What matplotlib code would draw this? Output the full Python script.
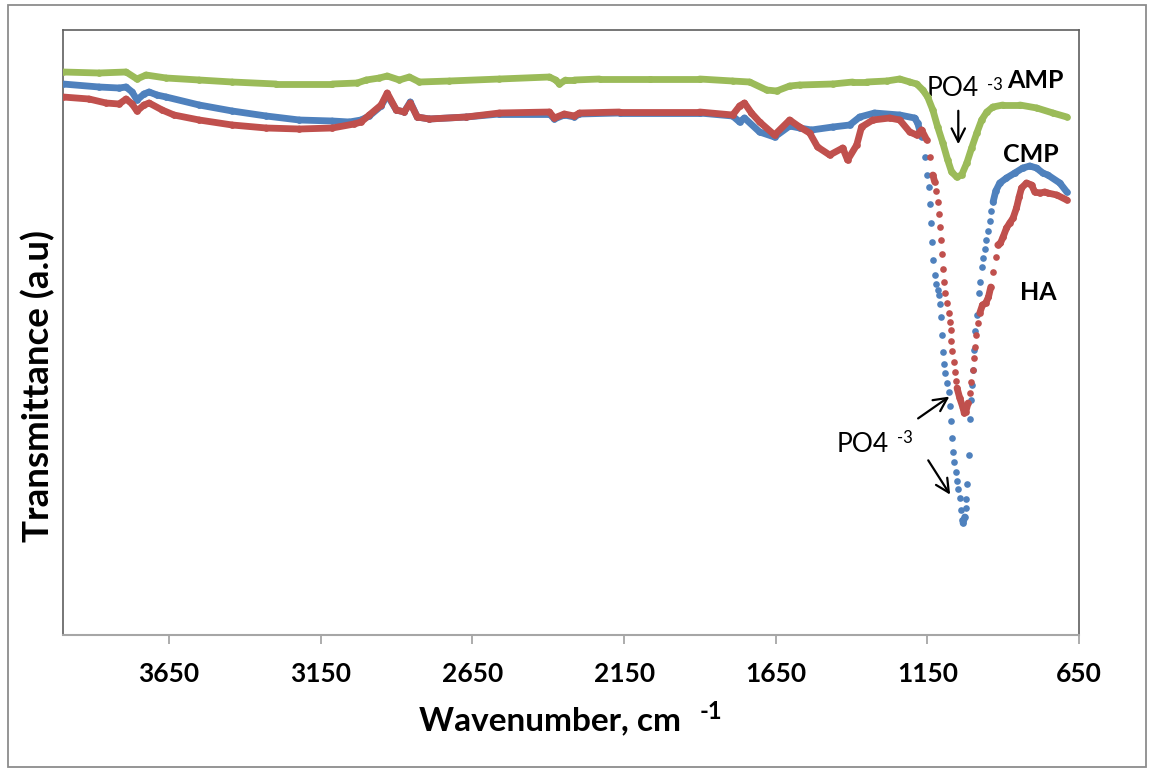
import numpy as np
import matplotlib
matplotlib.use("Agg")
import matplotlib.pyplot as plt
from matplotlib.collections import LineCollection
from matplotlib.patches import Rectangle

plt.rcParams['font.family'] = ['Lato', 'DejaVu Sans']

# ---------------- data (wavenumber cm-1, transmittance a.u.) ----------------
amp_wn = [4000, 3881, 3792, 3756, 3726, 3660, 3551, 3442, 3297, 3112, 3030, 3000, 2957, 2931,
          2891, 2858, 2825, 2726, 2561, 2396, 2376, 2363, 2343, 2314, 2231, 2066, 1901, 1792,
          1736, 1680, 1647, 1604, 1571, 1462, 1396, 1350, 1284, 1241, 1208, 1185, 1165, 1149,
          1132, 1116, 1099, 1083, 1070, 1053, 1037, 1020, 1004, 987, 971, 954, 934, 901, 845,
          789, 736, 690]
amp_t = [563, 562, 563, 556, 560, 557, 555, 553, 551, 551, 552, 555, 557, 559,
         555, 558, 553, 554, 556, 558, 555, 551, 555, 555, 556, 556, 556, 554,
         553, 545, 544, 549, 550, 551, 553, 553, 554, 556, 553, 551, 545, 538,
         525, 508, 492, 475, 463, 458, 460, 472, 487, 502, 515, 523, 528, 530, 530,
         527, 522, 518]

cmp_wn = [4000, 3881, 3815, 3792, 3772, 3756, 3733, 3716, 3690, 3660, 3551, 3442, 3330, 3221,
          3112, 3056, 3017, 2990, 2951, 2931, 2901, 2875, 2855, 2832, 2792, 2670, 2561, 2396,
          2380, 2347, 2314, 2297, 2165, 1901, 1792, 1769, 1753, 1703, 1654, 1604, 1571, 1532,
          1462, 1406, 1373, 1324, 1241, 1192, 1182, 1169, 1159, 1152,
          1145.5, 1139.9, 1136.6, 1133.3, 1130.0, 1123.4, 1120.1, 1115.8, 1112.5, 1109.2,
          1105.9, 1102.6, 1099.3, 1096.0, 1090.4, 1083.8, 1078.5, 1075.2, 1071.9, 1068.6,
          1065.3, 1060.7, 1056.4, 1052.1, 1047.5, 1043.2, 1039.9, 1034.3, 1032.3,
          1026.7, 1023.4, 1021.1, 1017.8, 1013.5, 1007.9, 1004.6, 1002.6, 999.3, 997.0,
          991.4, 985.5, 980.5, 975.5, 970.6, 966.3, 960.7, 955.1, 949.8, 944.2, 939.3,
          933.3, 924.4, 911.2, 889.1, 861.7, 835.3, 812.2, 790.1, 769.3, 752.8, 713.2, 690.1]
cmp_t = [551, 548, 547, 548, 543, 535, 541, 543, 540, 538, 530, 524, 519, 515,
         514, 513, 515, 519, 529, 540, 525, 523, 533, 518, 516, 518, 521, 521,
         516, 520, 518, 521, 522, 522, 519, 513, 517, 503, 498, 509, 507, 505,
         508, 510, 518, 522, 520, 517, 512, 498, 478, 460,
         448, 431, 412, 393, 375, 360, 351, 345, 340, 331,
         318, 300, 283, 271, 262, 252, 243, 229, 214, 197,
         183, 173, 163, 154, 146, 137, 125, 115, 112,
         118, 127, 136, 151, 180, 216, 235, 250, 265, 285,
         304, 320, 342, 353, 368, 377, 386, 395, 404, 414, 424,
         433, 444, 452, 457, 462, 467, 469, 467, 462, 460, 452, 443]

ha_wn = [4000, 3914, 3858, 3815, 3792, 3772, 3756, 3733, 3716, 3673, 3634, 3551, 3442, 3330,
         3221, 3112, 3040, 3017, 2990, 2951, 2931, 2901, 2875, 2855, 2832, 2792, 2670, 2561,
         2396, 2380, 2347, 2314, 2297, 2165, 1901, 1792, 1769, 1753, 1730, 1703, 1654, 1604,
         1571, 1538, 1512, 1472, 1429, 1413, 1383, 1367, 1330, 1274, 1241, 1208, 1185, 1169,
         1152, 1142, 1132,
         1125.7, 1120.1, 1115.8, 1112.5, 1109.2, 1105.9, 1102.6, 1099.3, 1096.0, 1090.4,
         1083.8, 1079.5, 1076.2, 1072.9, 1070.6, 1067.3, 1063.0, 1059.7, 1056.4, 1052.1,
         1043.2, 1032.3, 1028.4, 1023.4, 1015.8, 1010.2, 1004.6, 999.3, 996.0, 992.1,
         988.1, 982.8, 977.2, 968.3, 957.4, 948.5, 940.9, 933.3, 924.4, 917.8,
         908.9, 900.3, 889.1, 878.2, 867.3, 856.1, 847.5, 839.6, 823.1, 806.6,
         795.7, 779.2, 762.7, 752.8, 723.1, 690.1]
ha_t = [538, 536, 532, 531, 536, 531, 524, 530, 532, 525, 520, 515, 510, 507,
        506, 507, 511, 513, 520, 530, 542, 525, 523, 532, 518, 516, 518, 522,
        523, 517, 521, 519, 522, 523, 523, 520, 529, 532, 522, 513, 500, 515,
        508, 502, 488, 480, 487, 475, 490, 508, 515, 517, 515, 503, 500, 505,
        495, 478, 460,
        453, 444, 433, 421, 408, 395, 381, 366, 353, 342,
        332, 322, 313, 305, 294, 284, 273, 263, 254, 247,
        237, 227, 222, 223, 232, 242, 253, 265, 277, 288,
        300, 312, 322, 330, 332, 338, 348, 363, 378, 390,
        392, 398, 407, 412, 417, 427, 438, 447, 452, 450,
        443, 442, 443, 442, 440, 435]

x_ticks = [3650, 3150, 2650, 2150, 1650, 1150, 650]

# ---------------- figure ----------------
W, H = 1154, 773
fig = plt.figure(figsize=(W / 100, H / 100), dpi=100)
fig.patches.append(Rectangle((8 / W, 1 - 767 / H), (1146 - 8) / W, (767 - 5) / H,
                             transform=fig.transFigure, fill=False,
                             ec='#8c8c8c', lw=1.3))

ax = fig.add_axes([63 / W, 1 - 635 / H, (1079 - 63) / W, 605 / H])
ax.set_xlim(4000, 650)
ax.set_ylim(0, 605)
ax.set_xticks(x_ticks)
ax.set_xticklabels([str(v) for v in x_ticks], fontsize=19, fontweight='bold')
ax.set_yticks([])
ax.tick_params(axis='x', direction='out', length=6.5, width=1.3, color='#a6a6a6', pad=13)
for s in ('left', 'top', 'right'):
    ax.spines[s].set_color('#5f5f5f')
    ax.spines[s].set_linewidth(1.2)
ax.spines['bottom'].set_color('#a6a6a6')
ax.spines['bottom'].set_linewidth(1.5)


def draw_series(wn, t, color, z):
    wn = np.asarray(wn, float)
    t = np.asarray(t, float)
    ax.plot(wn, t, linestyle='none', marker='o', ms=4.8, mfc=color, mec=color,
            mew=0, zorder=z)
    pts = ax.transData.transform(np.column_stack([wn, t]))
    segs = []
    for i in range(len(wn) - 1):
        dx = abs(pts[i + 1, 0] - pts[i, 0])
        dy = abs(pts[i + 1, 1] - pts[i, 1])
        if dy <= 4.5 * max(dx, 1e-9):
            segs.append([(wn[i], t[i]), (wn[i + 1], t[i + 1])])
    lc = LineCollection(segs, colors=color, linewidths=4.9, capstyle='round',
                        joinstyle='round', zorder=z)
    ax.add_collection(lc)


draw_series(cmp_wn, cmp_t, '#4F81BD', 3)
draw_series(ha_wn, ha_t, '#C0504D', 4)
draw_series(amp_wn, amp_t, '#9BBB59', 5)

# annotations
ax.text(1151, 546, 'PO4', fontsize=19, ha='left', va='center')
ax.text(954, 550, '-3', fontsize=12, ha='left', va='center')
ax.text(888, 554, 'AMP', fontsize=18, fontweight='bold', ha='left', va='center')
ax.text(901, 481, 'CMP', fontsize=18, fontweight='bold', ha='left', va='center')
ax.text(845, 343, 'HA', fontsize=18, fontweight='bold', ha='left', va='center')
ax.text(1448, 190, 'PO4', fontsize=19, ha='left', va='center')
ax.text(1251, 197, '-3', fontsize=12, ha='left', va='center')

arrow = dict(arrowstyle='->', lw=1.6, color='black', mutation_scale=24)
ax.annotate('', xy=(1048, 488), xytext=(1048, 527), arrowprops=arrow)
ax.annotate('', xy=(1070, 240), xytext=(1188, 215), arrowprops=arrow)
ax.annotate('', xy=(1070, 138), xytext=(1152, 177), arrowprops=arrow)

# axis titles
fig.text(419 / W, 1 - 730 / H, 'Wavenumber, cm', fontsize=24, fontweight='bold',
         ha='left', va='baseline')
fig.text(700 / W, 1 - 719 / H, '-1', fontsize=17, fontweight='bold',
         ha='left', va='baseline')
fig.text(38 / W, 1 - 386 / H, 'Transmittance (a.u)', fontsize=26.5, fontweight='bold',
         rotation=90, ha='center', va='center')

fig.savefig('out.png', dpi=100)
